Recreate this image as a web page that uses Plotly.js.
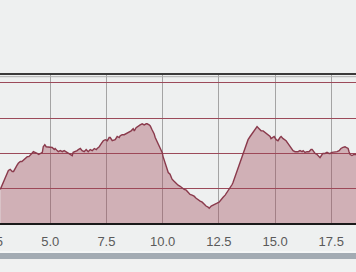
<!DOCTYPE html>
<html>
<head>
<meta charset="utf-8">
<script src="https://cdn.plot.ly/plotly-3.0.1.min.js"></script>
<style>
html,body{margin:0;padding:0;width:356px;height:272px;overflow:hidden;background:#eef0f0;}
#chart{position:absolute;left:-26px;top:0;width:382px;height:272px;}
</style>
</head>
<body>
<div id="chart"></div>
<script>
// distance (km)
const distance = [2.78,2.87,2.93,3.00,3.08,3.14,3.22,3.31,3.37,3.45,3.52,3.58,3.67,3.74,3.80,3.89,3.98,4.05,4.11,4.18,4.25,4.34,4.42,4.49,4.56,4.65,4.69,4.76,4.82,4.91,5.00,5.09,5.18,5.22,5.31,5.36,5.45,5.54,5.62,5.71,5.76,5.85,5.89,5.98,6.02,6.11,6.20,6.25,6.34,6.42,6.51,6.60,6.69,6.78,6.87,6.96,7.05,7.09,7.18,7.27,7.36,7.45,7.54,7.62,7.67,7.76,7.85,7.89,7.98,8.07,8.11,8.20,8.29,8.38,8.42,8.51,8.60,8.69,8.74,8.82,8.91,9.00,9.09,9.18,9.27,9.31,9.40,9.45,9.53,9.62,9.67,9.76,9.80,9.89,9.98,10.02,10.11,10.20,10.25,10.33,10.42,10.51,10.60,10.69,10.78,10.87,10.96,11.05,11.13,11.22,11.31,11.40,11.49,11.58,11.67,11.76,11.85,11.93,12.02,12.07,12.16,12.25,12.33,12.42,12.51,12.60,12.69,12.78,12.87,12.91,13.00,13.09,13.13,13.22,13.27,13.36,13.45,13.49,13.58,13.67,13.71,13.80,13.89,13.98,14.02,14.11,14.16,14.20,14.29,14.38,14.47,14.51,14.60,14.69,14.78,14.82,14.91,14.96,15.05,15.13,15.22,15.27,15.36,15.45,15.49,15.58,15.67,15.71,15.80,15.89,15.93,16.02,16.11,16.20,16.25,16.33,16.42,16.51,16.60,16.65,16.69,16.78,16.87,16.96,17.00,17.09,17.13,17.22,17.31,17.40,17.45,17.53,17.62,17.71,17.76,17.85,17.93,18.02,18.11,18.16,18.25,18.29,18.34,18.42,18.51,18.60];
// elevation
const elevation = [98,112,124,135,146,152,155,149,149,160,166,172,177,177,180,186,191,191,194,200,205,203,200,197,200,203,219,225,219,219,217,217,211,214,208,205,208,205,208,205,203,200,197,194,203,205,208,211,214,208,205,211,205,211,208,214,211,214,219,228,236,239,236,245,245,236,239,239,248,245,250,253,253,256,259,262,264,270,264,273,278,281,284,281,284,284,281,278,267,256,245,233,225,214,203,191,172,158,146,141,127,121,115,110,107,101,98,96,90,84,82,79,73,68,65,62,56,51,48,45,51,53,56,59,62,70,76,82,90,96,101,112,118,135,143,158,174,183,200,214,228,239,248,256,262,267,273,276,270,264,264,262,259,253,248,242,245,248,239,236,245,248,242,239,236,228,219,214,208,205,205,205,208,205,208,203,205,205,211,211,208,200,197,191,188,197,200,200,203,200,200,203,203,205,205,208,214,217,219,217,214,205,197,194,197,197];
const xTicks = [2.5,5.0,7.5,10.0,12.5,15.0,17.5];

const trace = {
  x: distance, y: elevation, type: 'scatter', mode: 'lines',
  fill: 'tozeroy', fillcolor: 'rgba(160,70,88,0.38)',
  line: {color: '#8a3a4c', width: 1.4},
  hoverinfo: 'none'
};

const layout = {
  width: 382, height: 272,
  margin: {l: 20, r: 0, t: 74, b: 49, pad: 0},
  paper_bgcolor: '#eef0f0', plot_bgcolor: '#eef0f0',
  showlegend: false,
  xaxis: {
    range: [2.5, 18.6], tickvals: xTicks, tickformat: '.1f',
    showgrid: true, gridcolor: '#a4a4a4', gridwidth: 1,
    zeroline: false, showline: true, linecolor: '#1a1a1a', linewidth: 1.5,
    ticks: '', ticklabelstandoff: 6,
    tickfont: {family: 'Liberation Sans, Arial, sans-serif', size: 13, color: '#5a5a5a'}
  },
  yaxis: {
    range: [3, 425], dtick: 100, tick0: 0,
    showgrid: true, gridcolor: '#9c4a5a', gridwidth: 1,
    zeroline: false, showline: false, showticklabels: false, ticks: ''
  },
  shapes: [
    {type: 'line', xref: 'paper', yref: 'paper', x0: 0, x1: 1, y0: 1, y1: 1, line: {color: '#3a3a3a', width: 2}},
    {type: 'line', xref: 'paper', yref: 'paper', x0: 0, x1: 1, y0: 0.982, y1: 0.982, line: {color: '#b0b0b0', width: 1}},
    {type: 'rect', xref: 'paper', yref: 'paper', x0: 0, x1: 1, y0: -0.242, y1: -0.201, fillcolor: '#a3abb3', line: {width: 0}, layer: 'above'},
    {type: 'line', xref: 'paper', yref: 'paper', x0: 0, x1: 1, y0: -0.195, y1: -0.195, line: {color: '#fbfbfb', width: 1}},
    {type: 'rect', xref: 'paper', yref: 'paper', x0: 0, x1: 1, y0: -0.33, y1: -0.243, fillcolor: '#f0f1f1', line: {width: 0}}
  ]
};

Plotly.newPlot('chart', [trace], layout, {staticPlot: true, displayModeBar: false});
</script>
</body>
</html>
